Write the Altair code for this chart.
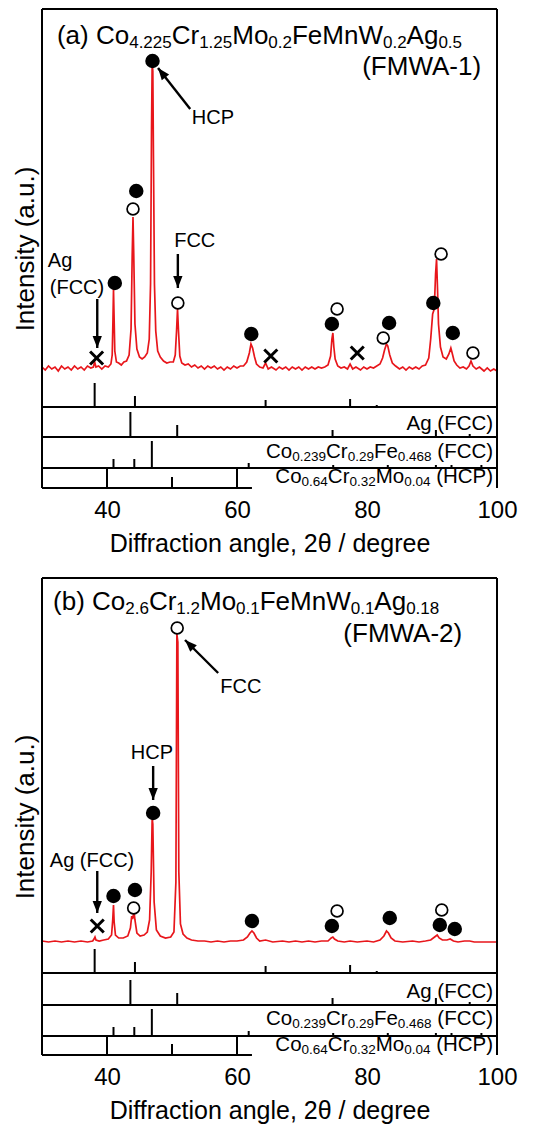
import math
import altair as alt
import pandas as pd

# ---------------- data ----------------
X_DOMAIN = [30, 100]
X_TICK_LABELS = [40, 60, 80, 100]
X_MINOR_TICK = [50]
X_TITLE = "Diffraction angle, 2θ / degree"
Y_TITLE = "Intensity (a.u.)"

# panel (a) measured pattern: (2theta in degree, intensity a.u.)
A_PTS = [(30.0,2),(30.5,-1),(31.0,3),(31.5,0),(32.0,2),(32.5,-2),(33.0,3),(33.5,0),(34.0,2),(34.5,-1),
         (35.0,3),(35.5,0),(36.0,2),(36.5,-1),(37.0,3),(37.5,1),(37.9,2),(38.1,7),(38.3,2),(38.7,3),
         (39.2,0),(39.7,3),(40.2,2),(40.6,5),(40.8,14),(40.92,50),(41.0,80),(41.08,55),(41.2,18),(41.45,7),
         (41.8,6),(42.2,4),(42.6,7),(43.0,8),(43.4,14),(43.7,40),(43.88,115),(44.0,152),(44.1,120),(44.3,45),
         (44.6,20),(45.0,12),(45.4,10),(45.8,12),(46.2,16),(46.5,30),(46.7,85),(46.85,240),(46.95,306),(47.05,298),
         (47.15,210),(47.3,85),(47.5,38),(47.8,18),(48.2,12),(48.7,8),(49.2,6),(49.7,7),(50.2,7),(50.5,14),
         (50.7,38),(50.85,60),(51.0,38),(51.2,13),(51.5,6),(52.0,4),(52.5,5),(53.0,2),(53.5,4),(54.0,1),
         (54.5,3),(55.0,0),(55.5,3),(56.0,1),(56.5,3),(57.0,0),(57.5,2),(58.0,-1),(58.5,2),(59.0,0),
         (59.5,3),(60.0,1),(60.5,3),(61.0,3),(61.5,7),(61.9,16),(62.15,25),(62.4,21),(62.7,12),(63.0,5),
         (63.5,2),(64.0,1),(64.4,6),(64.8,0),(65.3,2),(66.0,-1),(66.5,2),(67.0,0),(67.5,2),(68.0,-1),
         (68.5,2),(69.0,0),(69.5,2),(70.0,-1),(70.5,2),(71.0,0),(71.5,2),(72.0,0),(72.5,2),(73.0,1),
         (73.5,2),(74.0,4),(74.4,13),(74.6,30),(74.75,36),(74.9,22),(75.1,10),(75.5,3),(76.0,1),(76.5,2),
         (77.0,0),(77.4,5),(77.8,0),(78.3,2),(79.0,-1),(79.5,2),(80.0,0),(80.5,2),(81.0,1),(81.5,3),
         (82.0,5),(82.4,11),(82.7,19),(83.0,25),(83.2,23),(83.5,14),(83.9,6),(84.4,3),(85.0,0),(85.5,2),
         (86.0,-1),(86.5,2),(87.0,0),(87.5,2),(88.0,0),(88.5,3),(89.0,4),(89.5,11),(89.8,30),(90.1,55),
         (90.35,60),(90.55,95),(90.7,110),(90.85,80),(91.0,45),(91.3,22),(91.7,12),(92.2,10),(92.6,15),(92.9,21),
         (93.1,16),(93.4,8),(93.8,4),(94.3,1),(94.8,2),(95.3,0),(95.7,3),(96.0,8),(96.3,3),(96.8,0),
         (97.3,2),(98.0,-2),(98.5,1),(99.0,-2),(99.5,0),(100.0,-2)]

# panel (b) measured pattern
B_PTS = [(30.0,1),(31.0,0),(32.0,1),(33.0,0),(34.0,1),(35.0,0),(36.0,1),(37.0,0),(37.8,1),(38.0,3),
         (38.15,5),(38.3,2),(38.8,1),(39.5,2),(40.2,3),(40.7,7),(40.88,22),(41.0,37),(41.1,20),(41.3,7),
         (41.8,4),(42.5,4),(43.2,6),(43.6,14),(43.8,26),(43.95,23),(44.15,31),(44.3,22),(44.6,9),(45.1,6),
         (45.7,7),(46.2,10),(46.55,22),(46.8,70),(46.95,124),(47.05,118),(47.25,40),(47.6,12),(48.2,6),(49.0,4),
         (49.8,5),(50.3,10),(50.6,60),(50.75,308),(50.9,300),(51.05,70),(51.3,18),(51.7,8),(52.3,4),(53.0,2),
         (54.0,1),(55.0,1),(56.0,0),(57.0,1),(58.0,0),(59.0,1),(60.0,1),(61.0,2),(61.6,5),(62.0,9),
         (62.3,11),(62.6,9),(63.0,4),(63.5,1),(64.4,2),(65.5,0),(67.0,1),(68.0,0),(69.0,1),(70.0,0),
         (71.0,1),(72.0,0),(73.0,1),(74.0,1),(74.5,4),(74.75,5),(75.0,3),(75.5,1),(76.5,0),(77.4,1),
         (78.5,0),(80.0,1),(81.0,0),(82.0,2),(82.6,6),(83.0,11),(83.3,9),(83.7,4),(84.3,1),(85.5,0),
         (87.0,1),(88.0,0),(89.0,1),(89.8,2),(90.4,5),(90.8,7),(91.1,4),(91.6,2),(92.3,2),(92.8,3),
         (93.3,1),(94.0,0),(95.0,1),(95.8,1),(96.5,0),(98.0,0),(100.0,0)]

# phase markers (2theta, intensity)
A_HCP = [(41.2,86),(44.5,178),(47.0,308),(62.2,35),(74.6,45),(83.4,46),(90.2,66),(93.2,36)]
A_FCC = [(44.0,160),(50.9,66),(75.4,60),(82.5,31),(91.4,115),(96.3,16)]
A_AG = [(38.4,11),(65.2,13),(78.5,16)]
B_HCP = [(41.0,46),(44.3,52),(47.1,129),(62.3,21),(74.6,16),(83.5,24),(91.2,17),(93.5,13)]
B_FCC = [(44.1,34),(50.8,314),(75.4,31),(91.5,32)]
B_AG = [(38.5,16)]

# reference stick patterns (2theta, relative height)
AG_REF = [38.1, 44.3, 64.4, 77.4, 81.5, 97.9]
AG_REF_H = [24, 11, 7, 8, 2, 1]
FCC_REF = [43.6, 50.8, 74.7, 90.6, 95.8]
FCC_REF_H = [25, 12, 7, 7, 3]
HCP_REF = [41.0, 44.2, 46.9, 61.8, 74.8, 83.2, 90.6, 93.0, 97.6]
HCP_REF_H = [9, 9, 27, 5, 3, 3, 3, 3, 3]

# texts
A_TITLE = [("(a) Co", 0), ("4.225", 1), ("Cr", 0), ("1.25", 1), ("Mo", 0), ("0.2", 1),
           ("FeMnW", 0), ("0.2", 1), ("Ag", 0), ("0.5", 1)]
B_TITLE = [("(b) Co", 0), ("2.6", 1), ("Cr", 0), ("1.2", 1), ("Mo", 0), ("0.1", 1),
           ("FeMnW", 0), ("0.1", 1), ("Ag", 0), ("0.18", 1)]
A_SAMPLE = "(FMWA-1)"
B_SAMPLE = "(FMWA-2)"
REF_LABEL_1 = [("Ag (FCC)", 0)]
REF_LABEL_2 = [("Co", 0), ("0.239", 1), ("Cr", 0), ("0.29", 1), ("Fe", 0), ("0.468", 1), (" (FCC)", 0)]
REF_LABEL_3 = [("Co", 0), ("0.64", 1), ("Cr", 0), ("0.32", 1), ("Mo", 0), ("0.04", 1), (" (HCP)", 0)]

# ---------------- layout / style ----------------
FONT = "Liberation Sans"
RED = "#e8161b"
PLOT_W = 455
PX_PER_DEG = PLOT_W / (X_DOMAIN[1] - X_DOMAIN[0])

AW = {' ': 278, '(': 333, ')': 333, '.': 278, '-': 333, ',': 278, 'A': 667, 'C': 722, 'F': 611,
      'H': 722, 'M': 833, 'P': 667, 'W': 944, 'a': 556, 'b': 556, 'e': 556, 'g': 556, 'n': 556,
      'o': 556, 'r': 333, 'u': 556}


def text_px(s, size):
    return sum(AW.get(c, 556) for c in s) / 1000.0 * size


def rich(segments, x, y, size, sub_size, drop, right=False):
    total = sum(text_px(t, sub_size if s else size) for t, s in segments)
    xpx = 0.0 if not right else -total
    rows = []
    for t, s in segments:
        fs = sub_size if s else size
        lead = len(t) - len(t.lstrip(" "))
        xpx_t = xpx + text_px(" " * lead, fs)
        rows.append({"t": t.strip(" "), "x": x + xpx_t / PX_PER_DEG, "y": y - (drop if s else 0), "s": fs})
        xpx += text_px(t, fs)
    return rows


PANELS = [
    dict(pts=A_PTS, hcp=A_HCP, fcc=A_FCC, ag=A_AG, ymin=-119, ymax=360, height=479,
         s1=-38, s2=-68, s3=-99, title=A_TITLE, tx=32.3, ty=325, sample=A_SAMPLE, sx=97.7, sy=294,
         center=[("HCP", 56.3, 251), ("FCC", 53.5, 128)],
         left=[("Ag", 30.9, 108), ("(FCC)", 31.2, 81)],
         arrows=[(52.8, 260, 47.85, 301), (50.9, 115, 50.9, 81), (38.5, 70, 38.5, 21)],
         lab=(7, 10, 5)),
    dict(pts=B_PTS, hcp=B_HCP, fcc=B_FCC, ag=B_AG, ymin=-113, ymax=364, height=477,
         s1=-31, s2=-63, s3=-94, title=B_TITLE, tx=31.7, ty=332, sample=B_SAMPLE, sx=94.8, sy=300,
         center=[("HCP", 46.9, 189), ("FCC", 60.6, 255)],
         left=[("Ag (FCC)", 31.2, 81)],
         arrows=[(38.5, 71, 38.5, 29), (47.1, 176, 47.1, 142), (57.1, 269, 52.0, 302)],
         lab=(7, 11, 4)),
]

CROSS = "M-1,-1L1,1M1,-1L-1,1"
HEAD = "M0,0L0.85,2.2L-0.85,2.2Z"


def make_panel(p):
    ymin, ymax = p["ymin"], p["ymax"]
    xs = alt.Scale(domain=X_DOMAIN, nice=False, zero=False)
    ys = alt.Scale(domain=[ymin, ymax], nice=False, zero=False)
    xax = alt.Axis(values=X_TICK_LABELS, ticks=False, domain=False, grid=False, labelFontSize=24,
                   labelPadding=10, labelFlush=False, title=X_TITLE, titleFontSize=25, titlePadding=9)
    yax = alt.Axis(labels=False, ticks=False, domain=False, grid=False, title=Y_TITLE,
                   titleFontSize=26, titlePadding=4)
    X = alt.X("x:Q", scale=xs, axis=xax)
    Y = alt.Y("y:Q", scale=ys, axis=yax)

    curve = pd.DataFrame(p["pts"], columns=["x", "y"])
    line = alt.Chart(curve).mark_line(color=RED, strokeWidth=1.7).encode(x=X, y=Y)

    segs = []
    x0, x1 = X_DOMAIN
    def seg(a, b, c, d, w=2.0):
        segs.append({"x": a, "y": b, "x2": c, "y2": d, "w": w})
    # frame
    seg(x0, ymin, x0, ymax)
    seg(x1, ymin, x1, ymax)
    seg(x0, ymax, x1, ymax)
    for sb in (p["s1"], p["s2"], p["s3"]):
        seg(x0, sb, x1, sb)
    seg(x0, ymin, 62.3, ymin)
    # inward axis ticks
    for t in X_TICK_LABELS[:2]:
        seg(t, ymin, t, p["s3"])
    for t in X_MINOR_TICK:
        seg(t, ymin, t, ymin + 11)
    # reference sticks
    for xs_, hs_, base in ((AG_REF, AG_REF_H, p["s1"]), (FCC_REF, FCC_REF_H, p["s2"]),
                           (HCP_REF, HCP_REF_H, p["s3"])):
        for xv, hv in zip(xs_, hs_):
            seg(xv, base, xv, base + hv)
    # arrow shafts
    heads = []
    for (ax, ay, bx, by) in p["arrows"]:
        seg(ax, ay, bx, by, 2.4)
        dx = (bx - ax) * PX_PER_DEG
        dy = -(by - ay)
        ang = math.degrees(math.atan2(dx, -dy)) % 360
        heads.append({"x": bx, "y": by, "ang": ang})
    sdf = pd.DataFrame(segs)
    rules = alt.Chart(sdf).mark_rule(color="black").encode(
        x=X, x2="x2:Q", y=Y, y2="y2:Q", strokeWidth=alt.StrokeWidth("w:Q", scale=None))

    hcp = alt.Chart(pd.DataFrame(p["hcp"], columns=["x", "y"])).mark_point(
        shape="circle", filled=True, color="black", size=210, opacity=1).encode(x=X, y=Y)
    fcc = alt.Chart(pd.DataFrame(p["fcc"], columns=["x", "y"])).mark_point(
        shape="circle", filled=True, color="white", stroke="black", strokeWidth=1.7,
        size=140, opacity=1).encode(x=X, y=Y)
    ag = alt.Chart(pd.DataFrame(p["ag"], columns=["x", "y"])).mark_point(
        shape=CROSS, filled=False, color="black", strokeWidth=3, size=170, opacity=1).encode(x=X, y=Y)
    head = alt.Chart(pd.DataFrame(heads)).mark_point(
        shape=HEAD, filled=True, color="black", size=120, opacity=1).encode(
        x=X, y=Y, angle=alt.Angle("ang:Q", scale=None))

    rich_rows = []
    rich_rows += rich(p["title"], p["tx"], p["ty"], 26, 17, 4)
    rich_rows += rich([(p["sample"], 0)], p["sx"], p["sy"], 26, 17, 4, right=True)
    lab = p["lab"]
    rich_rows += rich(REF_LABEL_1, 99.4, p["s2"] + lab[0], 20.5, 13.5, 3, right=True)
    rich_rows += rich(REF_LABEL_2, 99.4, p["s3"] + lab[1], 20.5, 13.5, 3, right=True)
    rich_rows += rich(REF_LABEL_3, 99.4, ymin + lab[2], 20.5, 13.5, 3, right=True)
    rtext = alt.Chart(pd.DataFrame(rich_rows)).mark_text(
        align="left", baseline="alphabetic", font=FONT, color="black").encode(
        x=X, y=Y, text="t:N", size=alt.Size("s:Q", scale=None))

    ctext = alt.Chart(pd.DataFrame(p["center"], columns=["t", "x", "y"])).mark_text(
        align="center", baseline="middle", font=FONT, fontSize=20, color="black").encode(
        x=X, y=Y, text="t:N")
    ltext = alt.Chart(pd.DataFrame(p["left"], columns=["t", "x", "y"])).mark_text(
        align="left", baseline="middle", font=FONT, fontSize=20, color="black").encode(
        x=X, y=Y, text="t:N")

    return alt.layer(line, rules, hcp, fcc, ag, head, rtext, ctext, ltext).properties(
        width=PLOT_W, height=p["height"])


chart = alt.vconcat(*[make_panel(p) for p in PANELS], spacing=21).properties(
    padding={"left": 4, "top": 0, "right": 4, "bottom": 4}
).configure_view(stroke=None).configure_axis(
    labelFont=FONT, titleFont=FONT, labelColor="black", titleColor="black", titleFontWeight="normal"
)

chart.save("out.html", embed_options={"renderer": "svg", "actions": False})
